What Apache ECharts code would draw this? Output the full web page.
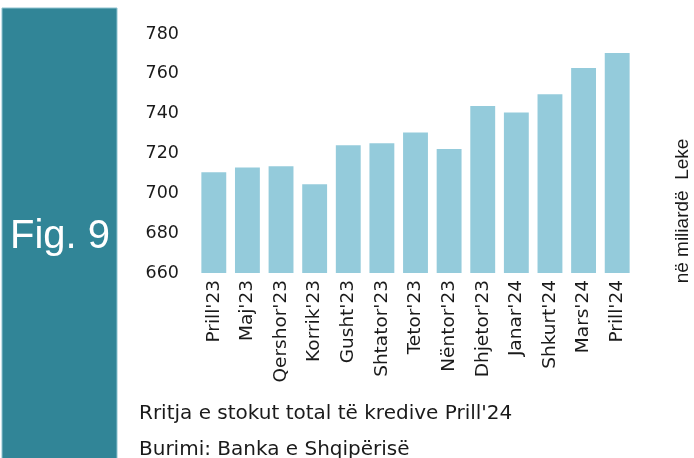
<!DOCTYPE html>
<html>
<head>
<meta charset="utf-8">
<script src="https://cdn.jsdelivr.net/npm/echarts@6/dist/echarts.min.js"></script>
<style>
    html, body { margin: 0; padding: 0; background: #fff; }
    #chart { width: 694px; height: 458px; }
</style>
</head>
<body>
<div id="chart"></div>
<script>
// stoku i kredive, miliardë Leke
var months = ["Prill'23", "Maj'23", "Qershor'23", "Korrik'23", "Gusht'23", "Shtator'23",
    "Tetor'23", "Nëntor'23", "Dhjetor'23", "Janar'24", "Shkurt'24", "Mars'24", "Prill'24"];
var stock = [710.6, 713, 713.6, 704.6, 724.2, 725.2, 730.5, 722.2, 743.8, 740.6, 749.8, 762.9, 770.4];
var yTicks = [660, 680, 700, 720, 740, 760, 780];

var chart = echarts.init(document.getElementById('chart'));
var textColor = '#1a1a1a';

var option = {
    animation: false,
    grid: {
        left: 197,
        right: 60,
        top: 34,
        bottom: 185
    },
    xAxis: {
        type: 'category',
        data: months,
        axisLine: { show: false },
        axisTick: { show: false },
        axisLabel: {
            rotate: 90,
            interval: 0,
            margin: 7,
            color: textColor,
            fontFamily: 'DejaVu Sans',
            fontSize: 18.5
        }
    },
    yAxis: {
        type: 'value',
        min: yTicks[0],
        max: yTicks[yTicks.length - 1],
        interval: 20,
        splitLine: { show: false },
        axisLine: { show: false },
        axisTick: { show: false },
        axisLabel: {
            margin: 18,
            color: textColor,
            fontFamily: 'DejaVu Sans',
            fontSize: 17.5
        }
    },
    series: [{
        type: 'bar',
        data: stock,
        barCategoryGap: '26%',
        itemStyle: { color: '#94cbdb' }
    }],
    graphic: [
        {
            type: 'rect',
            shape: { x: 2, y: 8, width: 115, height: 460 },
            style: { fill: '#318597', stroke: '#8fc3d0', lineWidth: 1 }
        },
        {
            type: 'text',
            x: 60, y: 237,
            style: {
                text: 'Fig. 9',
                fill: '#fff',
                font: '40px "Liberation Sans"',
                textAlign: 'center',
                textVerticalAlign: 'middle'
            }
        },
        {
            type: 'text',
            x: 683, y: 211,
            rotation: Math.PI / 2,
            style: {
                text: 'në miliardë  Leke',
                fill: textColor,
                font: '19px "Liberation Sans"',
                textAlign: 'center',
                textVerticalAlign: 'middle'
            }
        },
        {
            type: 'text',
            x: 139, y: 414,
            style: {
                text: "Rritja e stokut total të kredive Prill'24",
                fill: textColor,
                font: '20px "DejaVu Sans"',
                textVerticalAlign: 'middle'
            }
        },
        {
            type: 'text',
            x: 139, y: 450,
            style: {
                text: 'Burimi: Banka e Shqipërisë',
                fill: textColor,
                font: '20px "DejaVu Sans"',
                textVerticalAlign: 'middle'
            }
        }
    ]
};

chart.setOption(option);
</script>
</body>
</html>
